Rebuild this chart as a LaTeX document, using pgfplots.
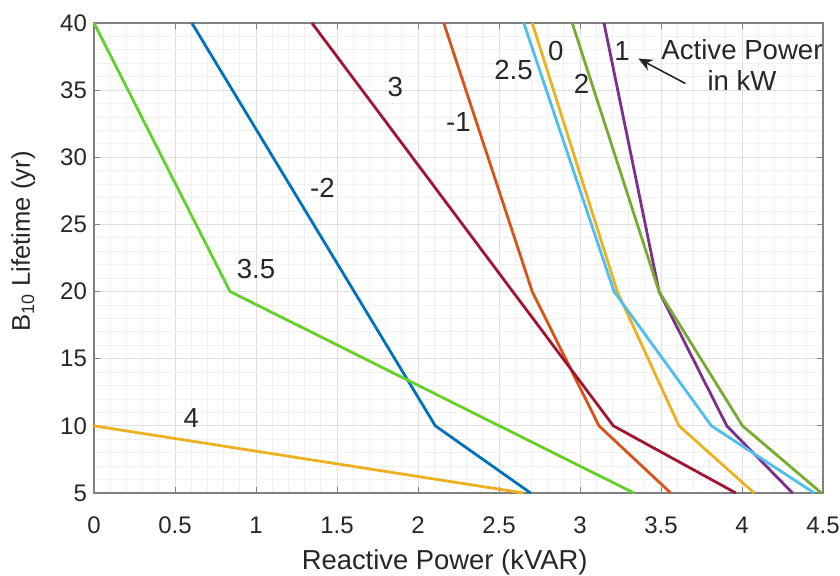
\documentclass[border=0pt]{standalone}
\usepackage{fontspec}
\setmainfont{Liberation Sans}
\usepackage{pgfplots}
\pgfplotsset{compat=1.18}
\usetikzlibrary{arrows.meta}
\definecolor{mblue}{HTML}{0072BD}
\definecolor{morange}{HTML}{D95319}
\definecolor{myellow}{HTML}{EDB120}
\definecolor{mpurple}{HTML}{7E2F8E}
\definecolor{mgreen}{HTML}{77AC30}
\definecolor{mcyan}{HTML}{4DBEEE}
\definecolor{mred}{HTML}{A2142F}
\definecolor{lime}{HTML}{62D12C}
\definecolor{txt}{HTML}{262626}
\begin{document}
\begin{tikzpicture}
\useasboundingbox (-47pt,-41.5pt) rectangle (373pt,246.5pt);
\begin{axis}[
  scale only axis, width=364.5pt, height=235pt,
  xmin=0, xmax=4.5, ymin=5, ymax=40,
  xtick={0,0.5,...,4.5}, ytick={5,10,...,40},
  minor x tick num=4, minor y tick num=4,
  grid=both,
  major grid style={draw=black!13, line width=0.5pt},
  minor grid style={draw=black!6, line width=0.4pt},
  axis line style={draw=black!50, line width=0.6pt},
  tick style={draw=black!50, line width=0.5pt},
  minor tick length=0pt, major tick length=3pt,
  tick align=inside,
  ticklabel style={font=\fontsize{12}{14}\selectfont, text=txt},
  xticklabel style={yshift=-8.5pt},
  /pgf/number format/assume math mode=true,
  xticklabel={\pgfmathprintnumber[fixed,precision=1]{\tick}},
  xlabel={Reactive Power (kVAR)},
  ylabel={B\textsubscript{10} Lifetime (yr)},
  every axis x label/.style={at={(axis description cs:0.481,-0.147)}, anchor=center,
    font=\fontsize{13.7}{16}\selectfont, text=txt},
  every axis y label/.style={at={(axis description cs:-0.097,0.535)}, anchor=center, rotate=90,
    font=\fontsize{12.8}{15}\selectfont, text=txt},
  clip=false,
  every axis plot/.append style={line width=1.4pt},
]
\addplot[mblue]   coordinates {(0.604,40) (1.606,20) (2.107,10) (2.695,5)};
\addplot[morange] coordinates {(2.159,40) (2.705,20) (3.117,10) (3.56,5)};
\addplot[myellow] coordinates {(2.705,40) (3.23,20) (3.611,10) (4.075,5)};
\addplot[mpurple] coordinates {(3.148,40) (3.488,20) (3.906,10) (4.312,5)};
\addplot[mgreen]  coordinates {(2.952,40) (3.488,20) (4.003,10) (4.49,5)};
\addplot[mcyan]   coordinates {(2.653,40) (3.21,20) (3.811,10) (4.446,5)};
\addplot[mred]    coordinates {(1.345,40) (2.585,20) (3.206,10) (3.962,5)};
\addplot[lime]    coordinates {(0,40) (0.84,20) (2.502,10) (3.333,5)};
\addplot[myellow] coordinates {(0,10) (2.652,5)};
\begin{scope}[every node/.style={font=\fontsize{13.8}{15.5}\selectfont, text=txt}]
\node at (axis cs:1.86,35.2) {3};
\node at (axis cs:1.41,27.7) {-2};
\node at (axis cs:2.25,32.6) {-1};
\node at (axis cs:2.59,36.5) {2.5};
\node at (axis cs:2.85,37.9) {0};
\node at (axis cs:3.01,35.5) {2};
\node at (axis cs:3.26,37.9) {1};
\node[align=center, inner sep=0pt] at (axis cs:4.0,36.9) {Active Power\\in kW};
\node at (axis cs:1.0,21.7) {3.5};
\node at (axis cs:0.6,10.6) {4};
\end{scope}
\draw[txt, line width=0.8pt, -{Stealth[length=7pt,width=6pt]}] (axis cs:3.65,35.5) -- (axis cs:3.36,37.35);
\end{axis}
\end{tikzpicture}
\end{document}
